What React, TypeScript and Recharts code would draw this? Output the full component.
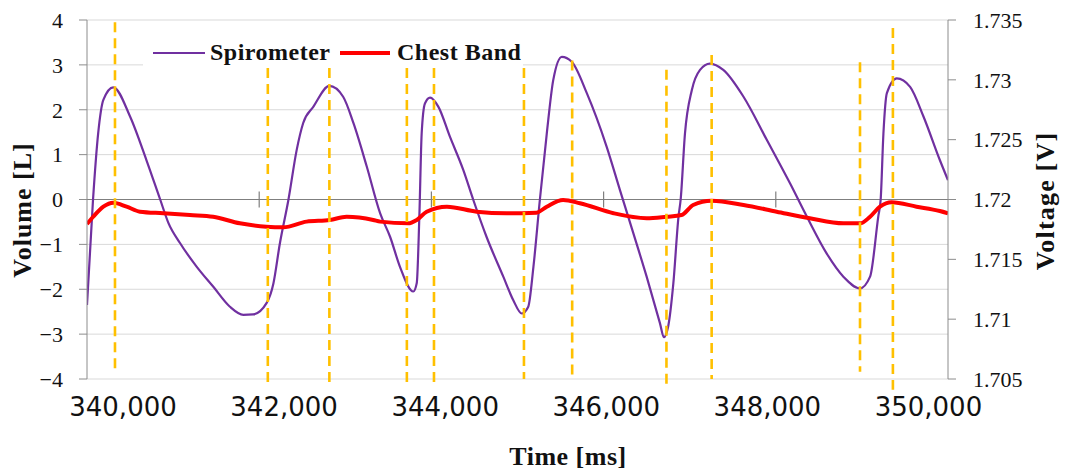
import { LineChart, Line, XAxis, YAxis, CartesianGrid, ReferenceLine, Legend, Label } from 'recharts';

// Spirometer volume [L], sampled off the reference curve
const spiroTime = [
  340000, 340070, 340130, 340190, 340305, 340500, 340690, 340850, 340945, 341080,
  341275, 341465, 341660, 341815, 341930, 342085, 342165, 342240, 342340, 342435,
  342510, 342630, 342815, 342975, 343095, 343250, 343405, 343520, 343635, 343790,
  343830, 343860, 343887, 343925, 343985, 344080, 344215, 344370, 344485, 344640,
  344835, 344950, 345050, 345125, 345185, 345260, 345340, 345415, 345515, 345630,
  345805, 346035, 346190, 346345, 346500, 346655, 346700, 346750, 346810, 346870,
  346895, 346945, 347025, 347120, 347235, 347390, 347625, 347895, 348165, 348360,
  348590, 348785, 348978, 349095, 349190, 349218, 349250, 349290, 349405, 349560,
  349715, 349905, 350000,
];
const spiroVolume = [
  -2.35, 0.0, 1.48, 2.22, 2.5, 1.85, 0.88, 0.0, -0.52, -0.97,
  -1.5, -1.94, -2.39, -2.57, -2.56, -2.31, -1.87, -0.98, 0.0, 1.1,
  1.7, 2.07, 2.53, 2.29, 1.7, 0.73, -0.31, -0.83, -1.5, -2.05,
  -1.86, -0.38, 1.47, 2.14, 2.27, 2.07, 1.4, 0.66, 0.0, -0.83,
  -1.72, -2.24, -2.54, -2.39, -1.5, 0.0, 1.47, 2.66, 3.18, 3.07,
  2.37, 1.18, 0.21, -0.75, -1.72, -2.76, -3.07, -2.83, -1.87, -0.38,
  0.0, 1.47, 2.44, 2.89, 3.03, 2.89, 2.29, 1.33, 0.36, -0.38,
  -1.2, -1.72, -1.98, -1.72, -0.38, 0.0, 1.47, 2.37, 2.7, 2.51,
  1.85, 0.88, 0.43,
];

// Chest band voltage [V]
const bandTime = [
  340000, 340075, 340190, 340305, 340460, 340615, 340885, 341195, 341465, 341775,
  342085, 342280, 342550, 342820, 343015, 343325, 343405, 343730, 343830, 343945,
  344180, 344525, 344875, 345220, 345340, 345530, 345725, 346115, 346500, 346730,
  346905, 347040, 347255, 347625, 348010, 348395, 348785, 348980, 349095, 349210,
  349345, 349635, 349905, 350000,
];
const bandVoltage = [
  1.71795, 1.71858, 1.7194, 1.71973, 1.7194, 1.71898, 1.71885, 1.7187, 1.71856, 1.71801,
  1.71773, 1.71768, 1.71815, 1.71829, 1.71856, 1.71829, 1.71815, 1.71801, 1.71829, 1.71898,
  1.7194, 1.71898, 1.71885, 1.7189, 1.7194, 1.71996, 1.71969, 1.71885, 1.71843, 1.71856,
  1.7187, 1.71954, 1.7199, 1.71954, 1.71898, 1.71843, 1.71801, 1.71801, 1.71856, 1.7194,
  1.71977, 1.7194, 1.71904, 1.71885,
];

// dashed markers (time, top and bottom on the volume axis)
const markerTime = [340325, 342100, 342815, 343715, 344030, 345075, 345635, 346730, 347255, 348978, 349360];
const markerTop = [3.95, 2.93, 2.93, 2.93, 2.93, 2.93, 3.1, 2.89, 3.22, 3.06, 3.82];
const markerBottom = [-3.87, -4.2, -4.2, -4.2, -4.2, -4.0, -4.0, -4.2, -4.0, -3.84, -4.24];

const xTicks = [340000, 342000, 344000, 346000, 348000, 350000];
const innerXTicks = [342000, 344000, 346000, 348000];
const volumeTicks = [-4, -3, -2, -1, 0, 1, 2, 3, 4];
const voltageTicks = [1.705, 1.71, 1.715, 1.72, 1.725, 1.73, 1.735];

const spiroData = spiroTime.map((t, i) => ({ t, v: spiroVolume[i] }));
const bandData = bandTime.map((t, i) => ({ t, u: bandVoltage[i] }));

const SERIF = '"Liberation Serif", "Times New Roman", serif';
const AXIS_GREY = '#8c8c8c';
const PURPLE = '#7030A0';
const RED = '#FF0000';
const GOLD = '#FFC000';

function XTick({ x, y, payload }: any) {
  // labels in the source sit a little off the tick positions
  const lx = 123 + (x - 87) * 0.9355;
  return (
    <text x={lx} y={y + 20} textAnchor="middle" dominantBaseline="central"
      fontFamily='"DejaVu Sans", sans-serif' fontSize={26} fill="#111">
      {payload.value.toLocaleString('en-US')}
    </text>
  );
}

function LegendBox() {
  const txt: React.CSSProperties = {
    position: 'absolute', top: 0, lineHeight: '32px', fontFamily: SERIF,
    fontWeight: 'bold', fontSize: 24, color: '#111', letterSpacing: 0.5, whiteSpace: 'nowrap',
  };
  return (
    <div style={{ position: 'relative', width: 380, height: 32, background: '#fff' }}>
      <div style={{ position: 'absolute', left: 10, top: 16, width: 52, height: 2, background: PURPLE }} />
      <span style={{ ...txt, left: 67 }}>Spirometer</span>
      <div style={{ position: 'absolute', left: 197, top: 15, width: 50, height: 4, background: RED }} />
      <span style={{ ...txt, left: 254 }}>Chest Band</span>
    </div>
  );
}

export default function App() {
  return (
    <div style={{ position: 'absolute', left: 0, top: 0, background: '#fff' }}>
      <LineChart width={1065} height={473} margin={{ top: 20, right: 0, bottom: 0, left: 0 }}>
        <CartesianGrid yAxisId="left" vertical={false} stroke="#d9d9d9" strokeWidth={1} />
        <XAxis
          dataKey="t"
          type="number"
          domain={[340000, 350000]}
          ticks={xTicks}
          allowDataOverflow
          height={94}
          axisLine={false}
          tickLine={false}
          tick={<XTick />}
        >
          <Label content={() => (
            <text x={568} y={456} textAnchor="middle" dominantBaseline="central"
              fontFamily={SERIF} fontWeight="bold" fontSize={26} fill="#111" letterSpacing={0.5}>
              Time [ms]
            </text>
          )} />
        </XAxis>
        <YAxis
          yAxisId="left"
          domain={[-4, 4]}
          ticks={volumeTicks}
          width={87}
          allowDataOverflow
          axisLine={{ stroke: AXIS_GREY }}
          tickLine={{ stroke: AXIS_GREY }}
          tickSize={8}
          tickMargin={16}
          tick={{ fontFamily: SERIF, fontSize: 22, fill: '#111' }}
          tickFormatter={(v: number) => (v < 0 ? '\u2212' + Math.abs(v) : String(v))}
        >
          <Label content={() => (
            <text x={22} y={210} transform="rotate(-90 22 210)" textAnchor="middle" dominantBaseline="central"
              fontFamily={SERIF} fontWeight="bold" fontSize={26} fill="#111" letterSpacing={1}>
              Volume [L]
            </text>
          )} />
        </YAxis>
        <YAxis
          yAxisId="right"
          orientation="right"
          domain={[1.705, 1.735]}
          ticks={voltageTicks}
          width={117}
          allowDataOverflow
          axisLine={{ stroke: AXIS_GREY }}
          tickLine={{ stroke: AXIS_GREY }}
          tickSize={8}
          tickMargin={17}
          tick={{ fontFamily: SERIF, fontSize: 22, fill: '#111', textAnchor: 'start' }}
          tickFormatter={(v: number) => String(+v.toFixed(3))}
        >
          <Label content={() => (
            <text x={1045} y={201} transform="rotate(-90 1045 201)" textAnchor="middle" dominantBaseline="central"
              fontFamily={SERIF} fontWeight="bold" fontSize={26} fill="#111" letterSpacing={1.2}>
              Voltage [V]
            </text>
          )} />
        </YAxis>

        <ReferenceLine yAxisId="left" y={0} stroke="#7f7f7f" strokeWidth={1.2} />
        {innerXTicks.map(t => (
          <ReferenceLine key={'tk' + t} yAxisId="left" stroke="#7f7f7f" strokeWidth={1.2}
            segment={[{ x: t, y: -0.18 }, { x: t, y: 0.18 }]} />
        ))}

        <Line data={spiroData} yAxisId="left" type="monotone" dataKey="v" name="Spirometer"
          stroke={PURPLE} strokeWidth={2.2} dot={false} activeDot={false} isAnimationActive={false} />
        <Line data={bandData} yAxisId="right" type="monotone" dataKey="u" name="Chest Band"
          stroke={RED} strokeWidth={4} dot={false} activeDot={false} isAnimationActive={false} />

        {markerTime.map((t, i) => (
          <ReferenceLine key={'m' + i} yAxisId="left" ifOverflow="visible"
            stroke={GOLD} strokeWidth={2.6} strokeDasharray="10 6"
            segment={[{ x: t, y: markerTop[i] }, { x: t, y: markerBottom[i] }]} />
        ))}

        <Legend
          verticalAlign="middle"
          align="center"
          layout="horizontal"
          content={() => <LegendBox />}
          wrapperStyle={{ left: 143, top: 36, width: 380, height: 32 }}
        />
      </LineChart>
    </div>
  );
}
